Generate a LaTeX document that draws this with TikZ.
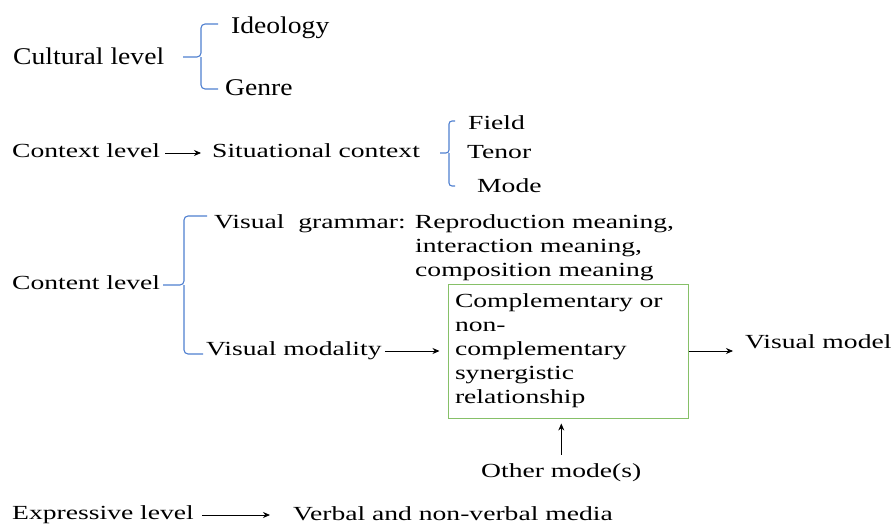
\documentclass[tikz,border=0pt]{standalone}
\usepackage{fontspec}
\setmainfont{Liberation Serif}[FakeStretch=1.38]
\newfontfamily\cultfont{Liberation Serif}[FakeStretch=1.15]
\usetikzlibrary{arrows.meta}
\definecolor{braceblue}{HTML}{4F7FD0}
\definecolor{boxgreen}{HTML}{86C068}
\begin{document}
\begin{tikzpicture}[x=1pt,y=-1pt,
  txt/.style={anchor=base west, inner sep=0pt, text height=12pt, text depth=4pt, font=\fontsize{20}{24}\selectfont},
  culttxt/.style={txt, font=\cultfont\fontsize{24}{28}\selectfont},
  brace/.style={draw=braceblue, line width=1.1pt, rounded corners=4pt},
  arr/.style={draw=black, line width=0.8pt, -{Stealth[length=7pt,width=6pt]}},
  relbox/.style={draw=boxgreen, line width=1pt, minimum width=240pt, minimum height=134pt,
    text width=226pt, align=left, inner xsep=7pt, inner ysep=0pt, font=\fontsize{20}{24}\selectfont}]
\useasboundingbox (0,0) rectangle (892,525);

% Cultural level
\node[culttxt] (cult) at (13,64) {Cultural level};
\node[culttxt] (ideo) at (231,33) {Ideology};
\node[culttxt] (genre) at (225,95) {Genre};
\coordinate (b1m) at (201,57);
\draw[brace] (218,24) -| (b1m) -- (183,57);
\draw[brace] (b1m) |- (218,89);

% Context level
\node[txt] (ctx) at (12,157) {Context level};
\node[txt] (sit) at (212,157) {Situational context};
\draw[arr] ([xshift=5pt]ctx.east) -- ([xshift=-11pt]sit.west);
\node[txt] (field) at (468,129) {Field};
\node[txt] (tenor) at (467,158) {Tenor};
\node[txt] (mode) at (477,192) {Mode};
\coordinate (b2m) at (449,153);
\draw[brace, rounded corners=3pt] (455,121) -| (b2m) -- (440,153);
\draw[brace, rounded corners=3pt] (b2m) |- (455,186);

% Content level
\node[txt] (cont) at (12,289) {Content level};
\node[txt] (vg) at (214,228) {Visual\ \ grammar: Reproduction meaning,};
\node[txt] (vg2) at (415,252) {interaction meaning,};
\node[txt] (vg3) at (415,276) {composition meaning};
\node[txt] (vm) at (206,355) {Visual modality};
\coordinate (b3m) at (184,285);
\draw[brace] (207,216) -| (b3m) -- (163,285);
\draw[brace] (b3m) |- (203,354);

\node[relbox] (rel) at (568,351) {Complementary or\\non-\\complementary\\synergistic\\relationship};
\draw[arr] ([xshift=3pt]vm.east) -- ([xshift=-8pt]vm.east -| rel.west);
\node[txt] (vmod) at (745,348) {Visual model};
\draw[arr] (rel.east) -- ([xshift=-12pt]rel.east -| vmod.west);
\node[txt] (other) at (481,477) {Other mode(s)};
\draw[arr] ([yshift=10pt]other.north) -- ([yshift=-5pt]rel.south -| other.north);

% Expressive level
\node[txt] (expr) at (12,519) {Expressive level};
\node[txt] (verb) at (293,520) {Verbal and non-verbal media};
\draw[arr] ([xshift=8pt]expr.east) -- ([xshift=-23pt]expr.east -| verb.west);
\end{tikzpicture}
\end{document}
